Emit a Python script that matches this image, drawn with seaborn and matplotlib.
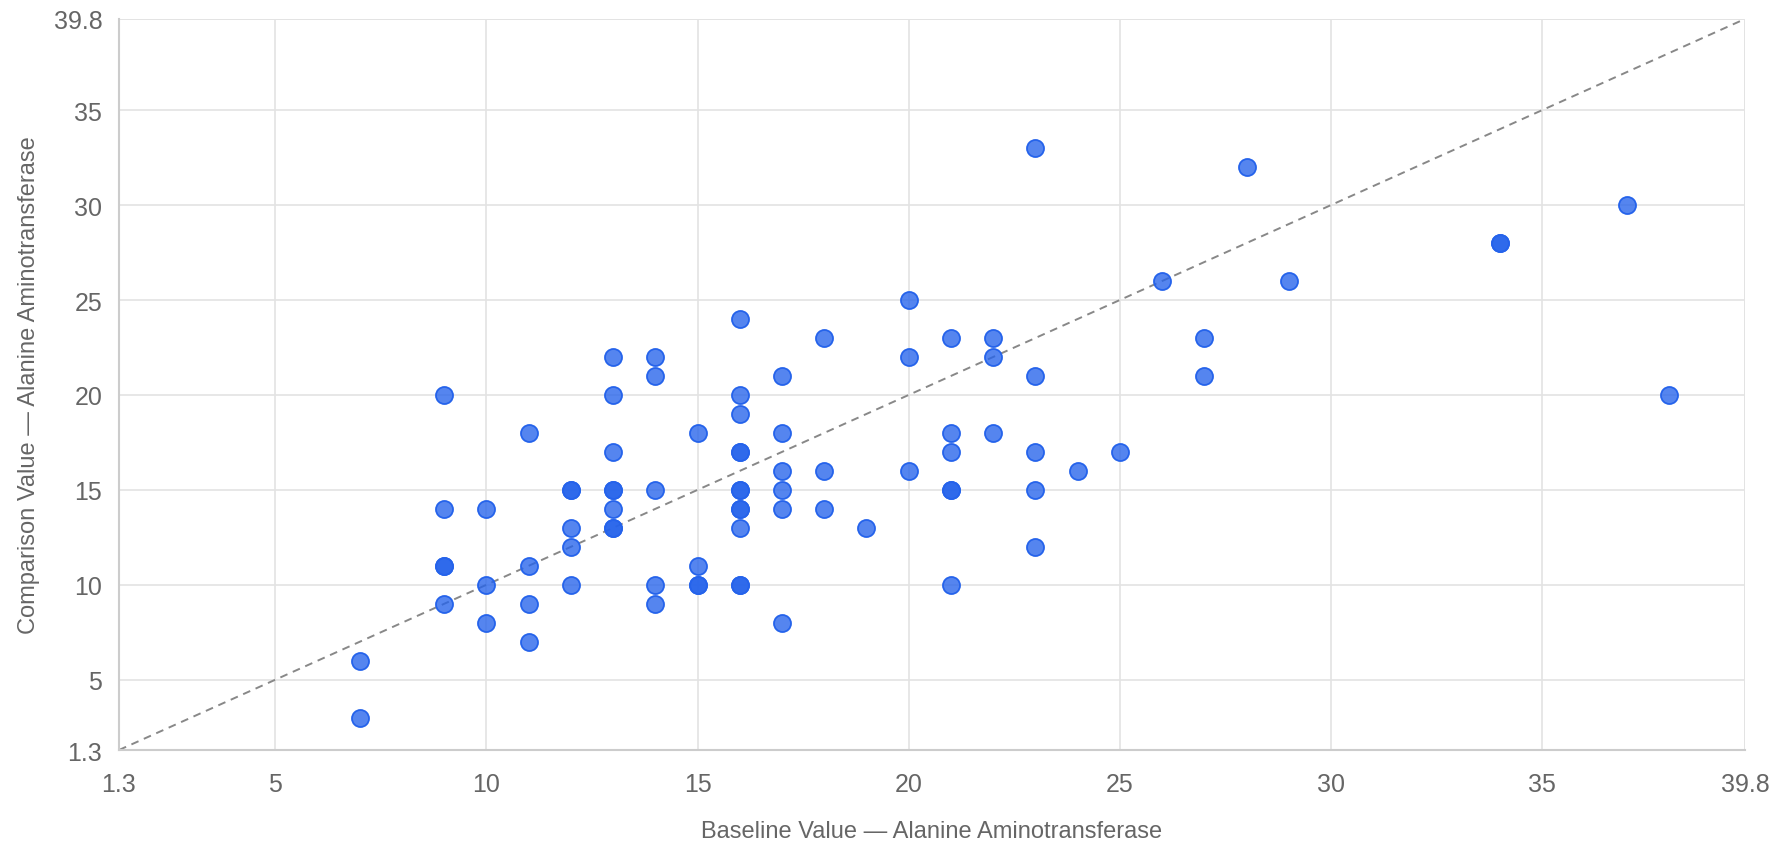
import numpy as np
import pandas as pd
import matplotlib.pyplot as plt
import seaborn as sns

# baseline (x) and comparison (y) values
baseline = [7, 7,
            9, 9, 9, 9, 9,
            10, 10, 10,
            11, 11, 11, 11,
            12, 12, 12, 12, 12,
            13, 13, 13, 13, 13, 13, 13, 13,
            14, 14, 14, 14, 14,
            15, 15, 15, 15,
            16, 16, 16, 16, 16, 16, 16, 16, 16, 16, 16, 16,
            17, 17, 17, 17, 17, 17,
            18, 18, 18,
            19,
            20, 20, 20,
            21, 21, 21, 21, 21, 21,
            22, 22, 22,
            23, 23, 23, 23, 23,
            24, 25, 26, 27, 27, 28, 29, 34, 34, 37, 38]
comparison = [6, 3,
              20, 14, 11, 11, 9,
              14, 10, 8,
              18, 11, 9, 7,
              15, 15, 13, 12, 10,
              22, 20, 17, 15, 15, 14, 13, 13,
              22, 21, 15, 10, 9,
              18, 11, 10, 10,
              24, 20, 19, 17, 17, 15, 15, 14, 14, 13, 10, 10,
              21, 18, 16, 15, 14, 8,
              23, 16, 14,
              13,
              25, 22, 16,
              23, 18, 17, 15, 15, 10,
              23, 22, 18,
              33, 21, 17, 15, 12,
              16, 17, 26, 23, 21, 32, 26, 28, 28, 30, 20]

lo, hi = 1.3, 39.8
tick_vals = [1.3, 5, 10, 15, 20, 25, 30, 35, 39.8]
tick_labels = ["1.3", "5", "10", "15", "20", "25", "30", "35", "39.8"]

df = pd.DataFrame({"baseline": baseline, "comparison": comparison})

sns.set_style("white")
plt.rcParams["font.family"] = ["Liberation Sans", "DejaVu Sans"]

fig = plt.figure(figsize=(17.76, 8.54), dpi=100)
ax = fig.add_axes([0.067, 0.1206, 0.9155, 0.856])

grid_c = "#e3e3e3"
text_c = "#666666"
blue = "#2563eb"

# identity line
ax.plot([lo, hi], [lo, hi], ls=(0, (4, 3)), color="#888888", lw=1.4, zorder=2)

sns.scatterplot(data=df, x="baseline", y="comparison", ax=ax, s=150,
                color=blue, linewidth=1.3, edgecolor=blue, zorder=3)
pts = ax.collections[-1]
pts.set_alpha(None)
pts.set_facecolor((0x25 / 255, 0x63 / 255, 0xeb / 255, 0.78))
pts.set_edgecolor(blue)

ax.set_xlim(lo, hi)
ax.set_ylim(lo, hi)
ax.set_xticks(tick_vals)
ax.set_xticklabels(tick_labels)
ax.set_yticks(tick_vals)
ax.set_yticklabels(tick_labels)

ax.grid(True, color=grid_c, lw=1.2, zorder=0)
ax.set_axisbelow(True)
for side in ["top", "right"]:
    ax.spines[side].set_visible(False)
for side in ["left", "bottom"]:
    ax.spines[side].set_color("#cccccc")
    ax.spines[side].set_linewidth(1.5)

ax.tick_params(axis="both", length=6, width=1.2, color=grid_c,
               labelcolor=text_c, labelsize=18, pad=6, direction="out")
ax.tick_params(axis="x", pad=10)

ax.set_xlabel("Baseline Value \u2014 Alanine Aminotransferase", color=text_c,
              fontsize=17, labelpad=17)
ax.set_ylabel("Comparison Value \u2014 Alanine Aminotransferase", color=text_c,
              fontsize=17, labelpad=10)

# faint border at the far limits (top/right grid lines)
ax.axhline(hi, color=grid_c, lw=1.2, zorder=0)
ax.axvline(hi, color=grid_c, lw=1.2, zorder=0)

fig.savefig("out.png", dpi=100)
